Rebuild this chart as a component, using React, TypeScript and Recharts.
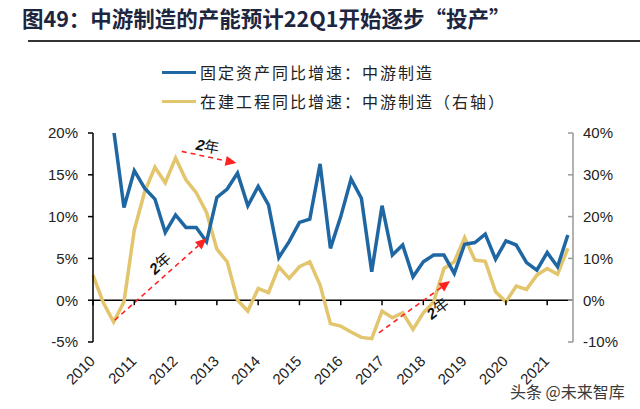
import React from "react";
import {
  LineChart,
  Line,
  XAxis,
  YAxis,
  ReferenceLine,
  ReferenceDot,
} from "recharts";

// quarterly series, 2010Q1 .. 2021Q3
const years = ["2010", "2011", "2012", "2013", "2014", "2015", "2016", "2017", "2018", "2019", "2020", "2021"];

// 固定资产同比增速：中游制造 (left axis, %)
const fixedAssetYoY = [
  26, 24, 20.4, 11.1, 15.5, 13.4, 12.1, 8.1, 10.2, 8.7, 8.7, 7.0,
  12.3, 13.3, 15.2, 11.3, 13.6, 11.4, 5.1, 7.0, 9.3, 9.7, 16.3, 6.2,
  10.0, 14.5, 12.2, 3.4, 11.3, 5.4, 6.6, 2.8, 4.6, 5.4, 5.4, 3.2,
  6.7, 6.9, 7.9, 4.9, 7.1, 6.6, 4.5, 3.6, 5.7, 4.0, 7.8,
];

// 在建工程同比增速：中游制造 (right axis, %)
const constructionYoY = [
  6.0, -0.6, -5.2, -0.4, 16.8, 25.9, 31.8, 28.1, 34.0, 28.8, 25.7, 21.0,
  12.2, 9.2, 0.0, -2.6, 2.8, 1.8, 8.0, 5.2, 8.0, 9.2, 3.6, -5.6,
  -6.2, -7.6, -8.9, -9.2, -2.6, -4.2, -3.0, -7.0, -3.0, -0.4, 7.6, 9.2,
  15.0, 9.6, 9.3, 2.0, -0.4, 3.4, 2.6, 6.0, 7.6, 6.2, 12.4,
];

const leftTicks = [-5, 0, 5, 10, 15, 20];
const rightTicks = [-10, -5, 0, 5, 10, 15, 20, 25, 30, 35, 40];

// "2年" lag arrows, in (quarter index, left-axis %) units
const lagArrows = [
  { from: { x: 2.1, y: -2.4 }, to: { x: 11.0, y: 7.4 } },
  { from: { x: 8.6, y: 17.8 }, to: { x: 13.9, y: 16.4 } },
  { from: { x: 27.7, y: -3.9 }, to: { x: 34.6, y: 2.3 } },
];
const lagLabels = [
  { x: 6.5, y: 4.4, angle: -42, text: "年" },
  { x: 11.1, y: 18.4, angle: 10, text: "年" },
  { x: 33.4, y: -1.0, angle: -38, text: "年" },
];

const data = fixedAssetYoY.map((v, i) => ({
  q: i,
  fixed: v,
  build: constructionYoY[i],
}));

const BLUE = "#1f67a2";
const GOLD = "#e2c56c";
const TICK_FONT = "'Liberation Sans', Arial, sans-serif";
const CJK_FONT = "'Noto Sans CJK SC', 'Liberation Sans', sans-serif";

const MARGIN = { top: 133, right: 0, bottom: 0, left: 33 };
const X_AXIS_H = 67;
const PLOT_H = 409 - MARGIN.top - X_AXIS_H;
const LEFT_MIN = -5;
const LEFT_MAX = 20;
const ZERO_OFFSET = (PLOT_H * (0 - LEFT_MIN)) / (LEFT_MAX - LEFT_MIN);

function YearTick(props: any) {
  const { x, y, payload } = props;
  const zeroY = y - ZERO_OFFSET;
  const tx = x + 3;
  const ty = y + 20;
  return (
    <g>
      <line x1={x} x2={x} y1={zeroY} y2={zeroY + 5} stroke="#000" strokeWidth={1.5} />
      <text
        x={tx}
        y={ty}
        transform={`rotate(-45 ${tx} ${ty})`}
        textAnchor="end"
        fill="#222"
        fontSize={15}
        fontFamily={TICK_FONT}
      >
        {years[Math.round(payload.value / 4)]}
      </text>
    </g>
  );
}

function RightTick(props: any) {
  const { x, y, payload } = props;
  return (
    <g>
      <line x1={x - 5} x2={x} y1={y} y2={y} stroke="#999" strokeWidth={1.5} />
      <text x={x + 10} y={y} dy="0.36em" textAnchor="start" fill="#222" fontSize={15} fontFamily={TICK_FONT}>
        {payload.value}%
      </text>
    </g>
  );
}

function DashedArrow(props: any) {
  const { x1, y1, x2, y2 } = props;
  const a = Math.atan2(y2 - y1, x2 - x1);
  const len = 11;
  const half = 5;
  const bx = x2 - len * Math.cos(a);
  const by = y2 - len * Math.sin(a);
  const pts = [
    `${x2},${y2}`,
    `${bx + half * Math.sin(a)},${by - half * Math.cos(a)}`,
    `${bx - half * Math.sin(a)},${by + half * Math.cos(a)}`,
  ].join(" ");
  return (
    <g>
      <line x1={x1} y1={y1} x2={bx} y2={by} stroke="#f22" strokeWidth={1.6} strokeDasharray="5 4" />
      <polygon points={pts} fill="#f22" />
    </g>
  );
}

function lagLabel(angle: number, text: string) {
  return (props: any) => {
    const { cx, cy } = props;
    return (
      <text
        x={cx}
        y={cy}
        transform={`rotate(${angle} ${cx} ${cy})`}
        textAnchor="middle"
        dy="0.35em"
        fill="#111"
        fontSize={15}
        fontFamily={CJK_FONT}
      >
        <tspan fontWeight="bold" fontStyle="italic" fontFamily={TICK_FONT}>2</tspan>
        <tspan>{text}</tspan>
      </text>
    );
  };
}

const legendItems = [
  { label: "固定资产同比增速：中游制造", color: BLUE, top: 72 },
  { label: "在建工程同比增速：中游制造（右轴）", color: GOLD, top: 101 },
];

export default function App() {
  return (
    <div
      style={{
        position: "absolute",
        left: 0,
        top: 0,
        width: 640,
        height: 409,
        background: "#fff",
        overflow: "hidden",
        fontFamily: CJK_FONT,
      }}
    >
      <div
        style={{
          position: "absolute",
          left: 22,
          top: 3,
          fontSize: 21.5,
          fontWeight: "bold",
          color: "#1d2640",
          whiteSpace: "nowrap",
          lineHeight: "30px",
        }}
      >
        图49：中游制造的产能预计22Q1开始逐步“投产”
      </div>
      <div style={{ position: "absolute", left: 28, right: 0, top: 40, height: 2, background: "#333" }} />

      {legendItems.map((item) => (
        <div key={item.label} style={{ position: "absolute", left: 162, top: item.top - 12, height: 24, display: "flex", alignItems: "center" }}>
          <div style={{ width: 34, height: 3, background: item.color }} />
          <span style={{ marginLeft: 4, fontSize: 16, letterSpacing: 2, color: "#222", whiteSpace: "nowrap" }}>{item.label}</span>
        </div>
      ))}

      <div style={{ position: "absolute", left: 0, top: 0 }}>
        <LineChart width={640} height={409} data={data} margin={MARGIN}>
          <XAxis
            dataKey="q"
            type="number"
            domain={[0, 46.5]}
            ticks={[0, 4, 8, 12, 16, 20, 24, 28, 32, 36, 40, 44]}
            interval={0}
            axisLine={false}
            tickLine={false}
            tickSize={0}
            tickMargin={0}
            height={X_AXIS_H}
            tick={<YearTick />}
          />
          <YAxis
            yAxisId="left"
            domain={[LEFT_MIN, LEFT_MAX]}
            ticks={leftTicks}
            allowDataOverflow
            width={60}
            axisLine={{ stroke: "#000", strokeWidth: 1.5 }}
            tickLine={{ stroke: "#000", strokeWidth: 1.5 }}
            tickSize={5}
            tickMargin={10}
            tickFormatter={(v: number) => `${v}%`}
            tick={{ fill: "#222", fontSize: 15, fontFamily: TICK_FONT }}
          />
          <YAxis
            yAxisId="right"
            orientation="right"
            domain={[-10, 40]}
            ticks={rightTicks}
            width={67}
            axisLine={{ stroke: "#999", strokeWidth: 1.5 }}
            tickLine={false}
            tickSize={0}
            tickMargin={0}
            tick={<RightTick />}
          />

          <ReferenceLine yAxisId="left" y={0} stroke="#000" strokeWidth={1.5} />

          <Line
            yAxisId="right"
            dataKey="build"
            name="在建工程同比增速：中游制造（右轴）"
            stroke={GOLD}
            strokeWidth={3.5}
            dot={false}
            isAnimationActive={false}
          />
          <Line
            yAxisId="left"
            dataKey="fixed"
            name="固定资产同比增速：中游制造"
            stroke={BLUE}
            strokeWidth={3.5}
            dot={false}
            isAnimationActive={false}
          />

          {lagArrows.map((a, i) => (
            <ReferenceLine key={`arrow-${i}`} yAxisId="left" segment={[a.from, a.to]} shape={DashedArrow} />
          ))}
          {lagLabels.map((l, i) => (
            <ReferenceDot key={`lag-${i}`} yAxisId="left" x={l.x} y={l.y} r={1} shape={lagLabel(l.angle, l.text)} />
          ))}
        </LineChart>
      </div>

      <div
        style={{
          position: "absolute",
          left: 510,
          top: 381,
          fontSize: 16,
          color: "#3a3a3a",
          whiteSpace: "nowrap",
          lineHeight: "20px",
        }}
      >
        头条 @未来智库
      </div>
    </div>
  );
}
